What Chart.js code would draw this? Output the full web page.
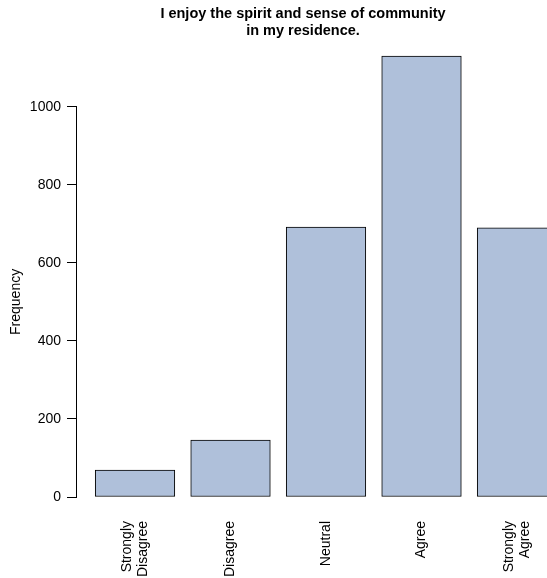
<!DOCTYPE html>
<html>
<head>
<meta charset="utf-8">
<script src="https://cdn.jsdelivr.net/npm/chart.js@4"></script>
<style>
  html, body { margin: 0; padding: 0; background: #fff; overflow: hidden; }
</style>
</head>
<body>
<canvas id="myChart" width="547" height="578"></canvas>
<script>
var categories = ["Strongly Disagree", "Disagree", "Neutral", "Agree", "Strongly Agree"];
var tickLabels = [["Strongly", "Disagree"], ["Disagree"], ["Neutral"], ["Agree"], ["Strongly", "Agree"]];
var frequencies = [69, 146, 692, 1130, 690];
var yTicks = [0, 200, 400, 600, 800, 1000];

var points = frequencies.map(function (v, i) { return { x: i + 1, y: v }; });
var font = "Liberation Sans, Arial, sans-serif";
var labelSize = 14;
var labelLine = 1.1;
// x range 0.382..5.136 over a 454px wide plot area
var xMin = 0.382, xMax = 5.136;
var unitsPerPx = (xMax - xMin) / 454;

new Chart("myChart", {
  type: "bar",
  data: {
    labels: categories,
    datasets: [{
      data: points,
      backgroundColor: "#afc0da",
      borderColor: "#000",
      borderWidth: 1,
      borderSkipped: false,
      // R barplot: bar width 1, space 0.2
      barThickness: 1 / unitsPerPx / 1.2,
      clip: false
    }]
  },
  options: {
    responsive: false,
    animation: false,
    layout: { padding: { left: 0, right: 17, top: 0, bottom: 0 } },
    plugins: {
      legend: { display: false },
      tooltip: { enabled: false },
      title: {
        display: true,
        fullSize: false,
        text: ["I enjoy the spirit and sense of community", "in my residence."],
        color: "#000",
        font: { family: font, size: 14.5, weight: "bold", lineHeight: 1.2 },
        padding: { top: 5, bottom: 67 }
      }
    },
    scales: {
      x: {
        type: "linear",
        offset: false,
        min: xMin,
        max: xMax,
        grid: { display: false },
        border: { display: false },
        ticks: {
          color: "#000",
          padding: 16,
          minRotation: 90,
          maxRotation: 90,
          font: { family: font, size: labelSize, lineHeight: labelLine },
          callback: function (v) { return tickLabels[Math.round(v) - 1]; }
        },
        afterBuildTicks: function (s) {
          // centre two-line labels on their bar
          s.ticks = tickLabels.map(function (lines, i) {
            var shift = (lines.length - 1) * labelSize * labelLine / 2;
            return { value: i + 1 - shift * unitsPerPx };
          });
        },
        afterFit: function (s) {
          s.height = 81;
          s.paddingLeft = 0;
          s.paddingRight = 0;
        }
      },
      y: {
        min: 0,
        max: 1000,
        afterBuildTicks: function (s) {
          s.ticks = yTicks.map(function (v) { return { value: v }; });
        },
        grid: { drawOnChartArea: false, drawTicks: true, tickLength: 9, color: "#000" },
        border: { display: true, color: "#000", width: 1 },
        ticks: {
          color: "#000",
          padding: 6,
          font: { family: font, size: labelSize },
          callback: function (v) { return String(v); }
        },
        title: {
          display: true,
          text: "Frequency",
          color: "#000",
          font: { family: font, size: labelSize },
          padding: { top: 8, bottom: 0 }
        },
        afterFit: function (s) { s.width = 76; }
      }
    }
  }
});
</script>
</body>
</html>
